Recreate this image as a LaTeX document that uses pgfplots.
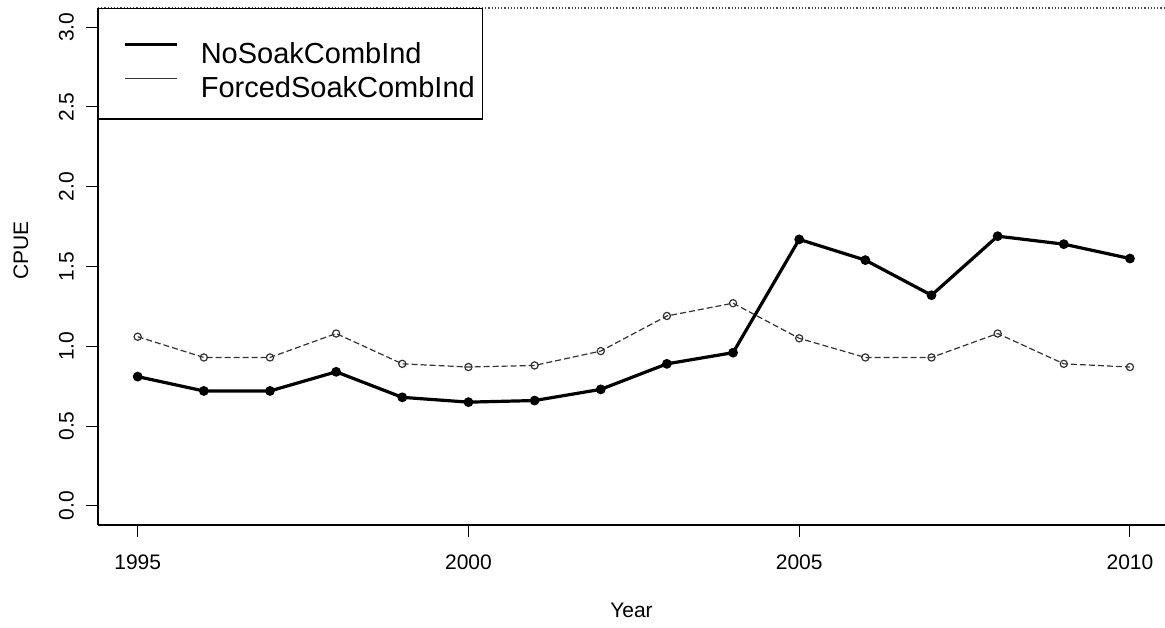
\documentclass[border=0pt]{standalone}
\usepackage{fontspec}
\setmainfont{Liberation Sans}
\usepackage{pgfplots}
\usepackage{pgfplotstable}
\pgfplotsset{compat=1.18}
\pgfplotstableread{
year nosoak forced
1995 0.81 1.06
1996 0.72 0.93
1997 0.72 0.93
1998 0.84 1.08
1999 0.68 0.89
2000 0.65 0.87
2001 0.66 0.88
2002 0.73 0.97
2003 0.89 1.19
2004 0.96 1.27
2005 1.67 1.05
2006 1.54 0.93
2007 1.32 0.93
2008 1.69 1.08
2009 1.64 0.89
2010 1.55 0.87
}\cpue
\begin{document}
\begin{tikzpicture}
\path[use as bounding box] (-49pt,-51pt) rectangle (533.5pt,262.5pt);
\begin{axis}[
  at={(0pt,0pt)}, anchor=south west, scale only axis,
  width=533.5pt, height=258.5pt,
  xmin=1994.4, xmax=2010.53, ymin=-0.12, ymax=3.12,
  axis lines*=left,
  x axis line style={-, line width=1.1pt},
  y axis line style={-, line width=0.6pt},
  xtick={1995,2000,2005,2010},
  ytick={0,0.5,1,1.5,2,2.5,3},
  tick align=outside, major tick length=6pt,
  tick style={black, line width=0.5pt},
  /pgf/number format/assume math mode=true,
  xticklabel style={/pgf/number format/1000 sep={}, yshift=-5.5pt, font=\fontsize{10.5}{12}\selectfont},
  yticklabel style={/pgf/number format/fixed, /pgf/number format/fixed zerofill,
    /pgf/number format/precision=1, rotate=90, anchor=south, yshift=2.5pt, font=\fontsize{10.5}{12}\selectfont},
  xlabel={Year},
  xlabel style={at={(axis description cs:0.5,0)}, anchor=center, yshift=-42.5pt, font=\fontsize{10.5}{12}\selectfont},
  ylabel={CPUE},
  ylabel style={at={(axis description cs:0,0.531)}, anchor=center, yshift=38.5pt, font=\fontsize{10.5}{12}\selectfont},
  legend style={at={(0,1)}, anchor=north west, draw=black, line width=0.6pt,
    fill=white, inner xsep=3pt, inner ysep=10.5pt, row sep=0pt,
    font=\fontsize{14.5}{16}\selectfont,
    nodes={inner xsep=1pt, inner ysep=0pt, text height=16pt, text depth=0pt}},
  legend cell align=left,
  legend image code/.code={\path (0pt,-8pt) (45.5pt,8pt); \draw[#1] (9.5pt,1.5pt) -- (35.5pt,1.5pt);},
]
\addlegendimage{black, line width=1.6pt}
\addlegendimage{black!80, line width=0.6pt}
\addplot[black, line width=1.6pt, mark=*, mark size=1.6pt, forget plot] table[x=year, y=nosoak] {\cpue};
\addplot[black!80, line width=0.6pt, dash pattern=on 3pt off 1.5pt, mark=o, mark size=1.8pt,
  mark options={solid}, forget plot] table[x=year, y=forced] {\cpue};
\draw[black!70, densely dotted, line width=0.6pt] (rel axis cs:0,1) -- (rel axis cs:1,1);
\legend{NoSoakCombInd, ForcedSoakCombInd}
\end{axis}
\end{tikzpicture}
\end{document}
